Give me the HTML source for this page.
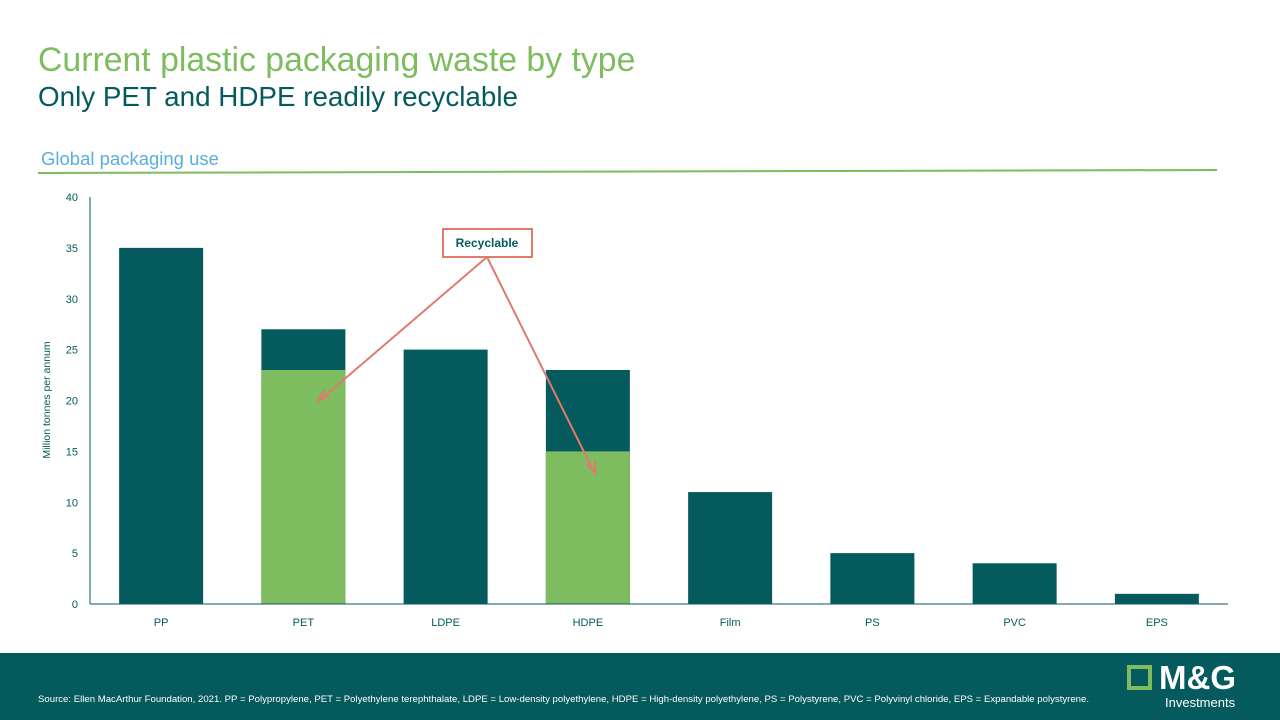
<!DOCTYPE html>
<html><head><meta charset="utf-8"><style>
body{margin:0;width:1280px;height:720px;overflow:hidden;background:#fff;font-family:"Liberation Sans",sans-serif;position:relative}
.t1{position:absolute;left:38px;top:41px;font-size:33.8px;color:#7dbd5f}
.t2{position:absolute;left:38px;top:81px;font-size:27.8px;color:#045a5c}
.t3{position:absolute;left:41px;top:148px;font-size:18.5px;color:#5aaddd}
.footer{position:absolute;left:0;top:653px;width:1280px;height:67px;background:#045a5c}
.src{position:absolute;left:38px;top:694px;font-size:9.6px;color:#fff;white-space:nowrap}
</style></head><body>
<div class="t1">Current plastic packaging waste by type</div>
<div class="t2">Only PET and HDPE readily recyclable</div>
<div class="t3">Global packaging use</div>
<svg width="1280" height="720" style="position:absolute;left:0;top:0" id="chart">
<line x1="38" y1="173" x2="1217" y2="170" stroke="#7dbd5f" stroke-width="2"/>
<g id="plot"></g>
<text x="50" y="400" transform="rotate(-90 50 400)" text-anchor="middle" font-size="10.5" fill="#045a5c">Million tonnes per annum</text>
<rect x="443" y="229" width="89" height="28" fill="#fff" stroke="#e07b6e" stroke-width="2"/>
<text x="487" y="247" text-anchor="middle" font-size="12" font-weight="bold" fill="#045a5c">Recyclable</text>
<g stroke="#e07b6e" stroke-width="2" fill="none">
<line x1="487" y1="257" x2="320" y2="400"/><polyline points="324,390 318,401 329,396"/>
<line x1="487" y1="257" x2="594" y2="472"/><polyline points="586,463 595,473 595,460"/>
</g>
</svg>
<div class="footer"></div>
<div class="src">Source: Ellen MacArthur Foundation, 2021. PP = Polypropylene, PET = Polyethylene terephthalate, LDPE = Low-density polyethylene, HDPE = High-density polyethylene, PS = Polystyrene, PVC = Polyvinyl chloride, EPS = Expandable polystyrene.</div>
<div style="position:absolute;left:1127px;top:665px;width:17px;height:17px;border:4px solid #7dbd5f"></div>
<div style="position:absolute;left:1159px;top:659px;font-size:33px;font-weight:bold;color:#fff">M&amp;G</div>
<div style="position:absolute;left:1165px;top:695px;font-size:13px;color:#fff">Investments</div>
<script>
const categories=["PP","PET","LDPE","HDPE","Film","PS","PVC","EPS"];
const totals=[35,27,25,23,11,5,4,1];
const recyclable=[0,23,0,15,0,0,0,0];
const yTicks=[0,5,10,15,20,25,30,35,40];
const ns="http://www.w3.org/2000/svg";
const g=document.getElementById("plot");
const x0=90,pw=1138,y0=604,yTop=197,yMax=40;
const bw=pw/categories.length;
const y=v=>y0-(v/yMax)*(y0-yTop);
function mk(t,a){const e=document.createElementNS(ns,t);for(const k in a)e.setAttribute(k,a[k]);g.appendChild(e);return e;}
yTicks.forEach(v=>{const t=mk("text",{x:78,y:y(v)+4,"text-anchor":"end","font-size":11,fill:"#045a5c"});t.textContent=v;

});
categories.forEach((c,i)=>{
const cx=x0+bw*(i+0.5);
const b=mk("rect",{x:cx-42,y:y(totals[i]),width:84,height:y0-y(totals[i]),fill:"#045a5c"});


if(recyclable[i]>0){const r=mk("rect",{x:cx-42,y:y(recyclable[i]),width:84,height:y0-y(recyclable[i]),fill:"#7dbd5f"});

}
const t=mk("text",{x:cx,y:626,"text-anchor":"middle","font-size":11,fill:"#045a5c"});t.textContent=c;


});
const ya=mk("line",{x1:x0,y1:yTop,x2:x0,y2:y0,stroke:"#045a5c","stroke-width":1});


const xa=mk("line",{x1:x0,y1:y0,x2:x0+pw,y2:y0,stroke:"#045a5c","stroke-width":1});


</script>
</body></html>
